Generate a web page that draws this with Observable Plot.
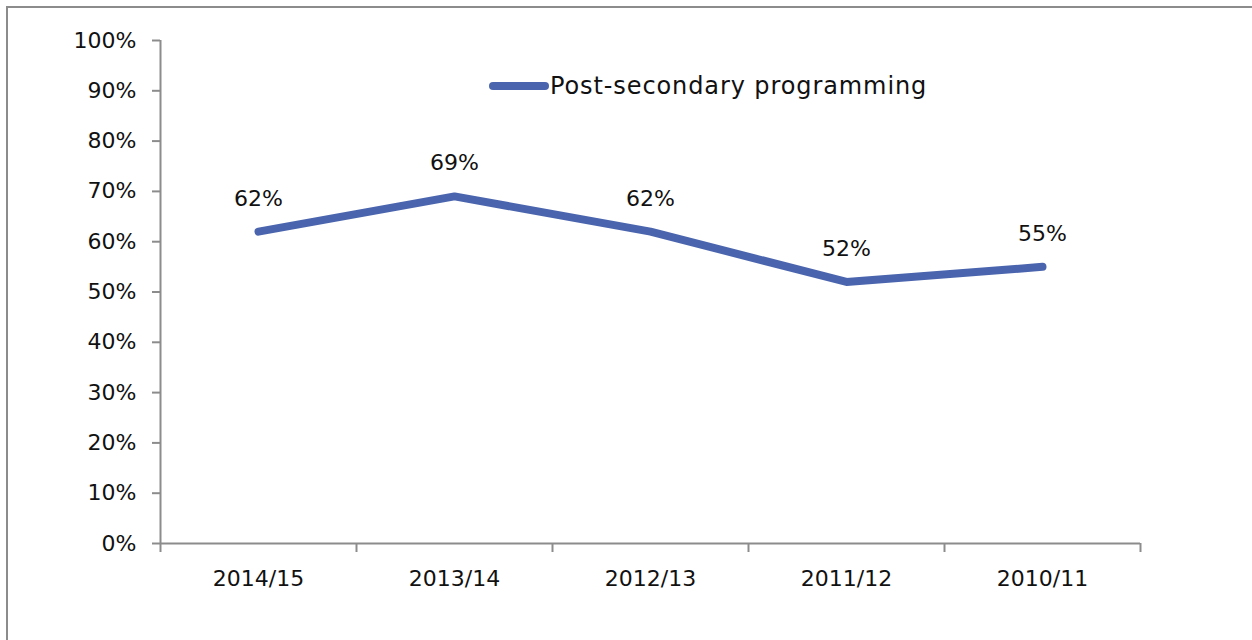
<!DOCTYPE html>
<html>
<head>
<meta charset="utf-8">
<script src="https://cdn.jsdelivr.net/npm/d3@7"></script>
<script src="https://cdn.jsdelivr.net/npm/@observablehq/plot@0.6"></script>
<style>
  html, body { margin: 0; padding: 0; background: #fff; }
  #wrap { position: relative; width: 1252px; height: 640px; overflow: hidden; font-family: "DejaVu Sans", sans-serif; }
  #frame { position: absolute; left: 6px; top: 6px; width: 1300px; height: 700px; border-left: 2px solid #8c8c8c; border-top: 2px solid #8c8c8c; }
  #legend { position: absolute; left: 489px; top: 72px; display: flex; align-items: center; font-size: 24px; color: #111; letter-spacing: 0.9px; }
  #legend .sw { width: 60px; height: 8px; border-radius: 4px; background: #4a65ae; margin-right: 1px; }
  svg { position: absolute; left: 0; top: 0; }
</style>
</head>
<body>
<div id="wrap">
  <div id="frame"></div>
  <div id="chart"></div>
  <div id="legend"><span class="sw"></span><span id="legtext"></span></div>
</div>
<script>
const categories = ["2014/15", "2013/14", "2012/13", "2011/12", "2010/11"];
const values = [0.62, 0.69, 0.62, 0.52, 0.55];
const yTicks = [0, 0.1, 0.2, 0.3, 0.4, 0.5, 0.6, 0.7, 0.8, 0.9, 1.0];
const seriesName = "Post-secondary programming";

document.getElementById("legtext").textContent = seriesName;

const data = categories.map((c, i) => ({cat: c, pos: i + 0.5, value: values[i]}));
const boundaries = d3.range(categories.length + 1);
const axisColor = "#8c8c8c";
const font = "DejaVu Sans, sans-serif";

const chart = Plot.plot({
  width: 1252,
  height: 640,
  marginLeft: 160,
  marginRight: 112,
  marginTop: 40,
  marginBottom: 97,
  style: {fontFamily: font, fontSize: "22px", color: "#111", background: "transparent"},
  x: {domain: [0, categories.length], axis: null},
  y: {domain: [0, 1], axis: null},
  marks: [
    Plot.axisY({ticks: yTicks, tickFormat: d3.format(".0%"), tickSize: 8, tickPadding: 16, stroke: axisColor, strokeWidth: 2, fontSize: 22, fill: "#111", label: null}),
    Plot.axisX({ticks: boundaries, tickFormat: () => "", tickSize: 9, stroke: axisColor, strokeWidth: 2, label: null}),
    Plot.ruleX([0], {stroke: axisColor, strokeWidth: 2}),
    Plot.ruleY([0], {stroke: axisColor, strokeWidth: 2}),
    Plot.text(data, {x: "pos", y: 0, text: "cat", dy: 35, fontSize: 22, fill: "#111"}),
    Plot.line(data, {x: "pos", y: "value", stroke: "#4a65ae", strokeWidth: 8, strokeLinecap: "round", strokeLinejoin: "round"}),
    Plot.text(data, {x: "pos", y: "value", text: d => d3.format(".0%")(d.value), dy: -33, fontSize: 22, fill: "#111"})
  ]
});
document.getElementById("chart").appendChild(chart);
</script>
</body>
</html>
